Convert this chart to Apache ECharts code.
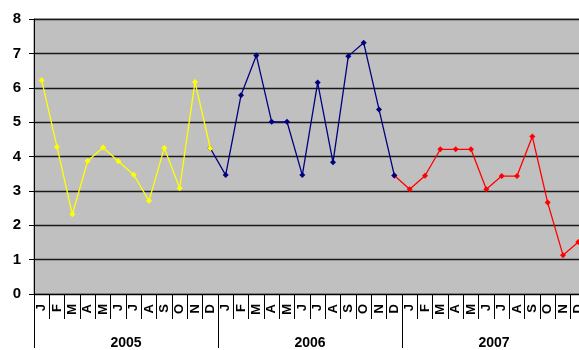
<!DOCTYPE html>
<html>
<head>
<meta charset="utf-8">
<script src="https://cdn.jsdelivr.net/npm/echarts@6/dist/echarts.min.js"></script>
<style>
html,body{margin:0;padding:0;background:#fff;overflow:hidden;width:579px;height:350px;}
#c{width:600px;height:350px;}
</style>
</head>
<body>
<div id="c"></div>
<script>
const months = ['J','F','M','A','M','J','J','A','S','O','N','D'];
const years = ['2005','2006','2007'];
const s2005 = [6.22, 4.28, 2.32, 3.87, 4.26, 3.86, 3.47, 2.71, 4.25, 3.08, 6.17, 4.24];
const s2006 = [3.46, 5.78, 6.94, 5.01, 5.01, 3.46, 6.15, 3.83, 6.92, 7.31, 5.37, 3.45];
const s2007 = [3.05, 3.44, 4.21, 4.21, 4.21, 3.05, 3.43, 3.43, 4.58, 2.66, 1.13, 1.51];

const catLabels = [];
years.forEach(() => months.forEach(m => catLabels.push(m)));
const n = catLabels.length;

function build(idx, vals, prev) {
  const arr = new Array(n).fill(null);
  const start = idx * 12;
  if (prev !== undefined) arr[start - 1] = prev;
  vals.forEach((v, i) => arr[start + i] = v);
  return arr;
}

const font = "'Liberation Sans', Arial, sans-serif";
const chart = echarts.init(document.getElementById('c'), null, {renderer: 'canvas'});
chart.setOption({
  animation: false,
  backgroundColor: '#ffffff',
  grid: {left: 34, top: 19, width: 552, height: 277, show: true, backgroundColor: '#C0C0C0', borderWidth: 1, borderColor: '#808080'},
  xAxis: [
    {
      type: 'category', data: catLabels, boundaryGap: true, position: 'bottom',
      axisLine: {show: true, lineStyle: {color: '#000', width: 1}},
      axisTick: {show: true, interval: 0, length: 25, lineStyle: {color: '#000', width: 1}},
      axisLabel: {interval: 0, rotate: 90, margin: 10, fontFamily: font, fontWeight: 'bold', fontSize: 13, color: '#000'},
      splitLine: {show: false}
    },
    {
      type: 'category', data: years, boundaryGap: true, position: 'bottom',
      axisLine: {show: false},
      axisTick: {show: true, interval: 0, length: 54, lineStyle: {color: '#000', width: 1}},
      axisLabel: {interval: 0, margin: 42, fontFamily: font, fontWeight: 'bold', fontSize: 14, color: '#000', verticalAlign: 'top'},
      splitLine: {show: false}
    }
  ],
  yAxis: {
    type: 'value', min: 0, max: 8, interval: 1,
    axisLine: {show: true, lineStyle: {color: '#000', width: 1}},
    axisTick: {show: true, length: 5, lineStyle: {color: '#000'}},
    axisLabel: {margin: 13, fontFamily: font, fontWeight: 'bold', fontSize: 15, color: '#000'},
    splitLine: {show: true, lineStyle: {color: '#1a1a1a', width: 1.3}}
  },
  series: [
    {type: 'line', name: '2005', data: build(0, s2005), z: 5, color: '#FFFF00',
     lineStyle: {width: 1.3, color: '#FFFF00'}, symbol: 'diamond', symbolSize: 6, showAllSymbol: true,
     itemStyle: {color: '#FFFF00'}},
    {type: 'line', name: '2006', data: build(1, s2006, s2005[11]), z: 4, color: '#000080',
     lineStyle: {width: 1.3, color: '#000080'}, symbol: 'diamond', symbolSize: 6, showAllSymbol: true,
     itemStyle: {color: '#000080'}},
    {type: 'line', name: '2007', data: build(2, s2007, s2006[11]), z: 3, color: '#FF0000',
     lineStyle: {width: 1.3, color: '#FF0000'}, symbol: 'diamond', symbolSize: 6, showAllSymbol: true,
     itemStyle: {color: '#FF0000'}}
  ]
});
</script>
</body>
</html>
